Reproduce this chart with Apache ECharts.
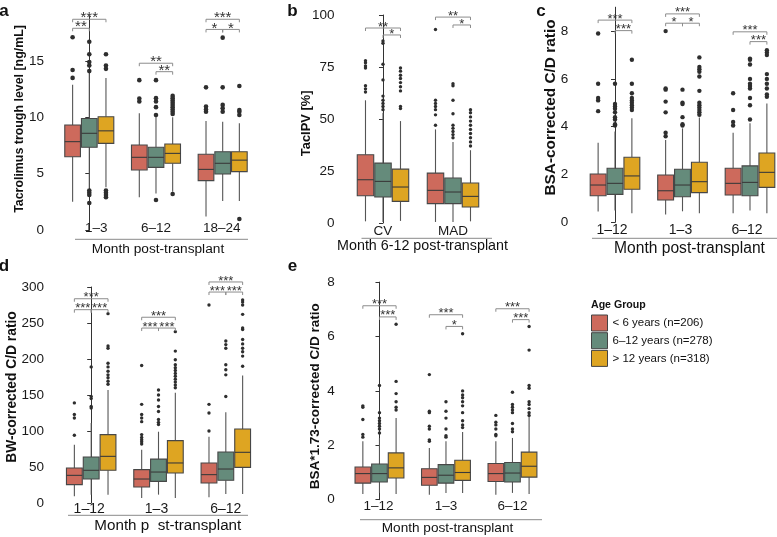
<!DOCTYPE html>
<html><head><meta charset="utf-8">
<script src="https://cdn.jsdelivr.net/npm/echarts@6/dist/echarts.min.js"></script>
<style>html,body{margin:0;padding:0;background:#fff}#c{width:777px;height:537px}</style>
</head><body><div id="c"></div>
<script>
// ---------- data ----------
const ageGroups = ['< 6 years (n=206)', '6–12 years (n=278)', '> 12 years (n=318)'];
const ageColors = ['#CD6A5C', '#658B7B', '#DEA522'];

// Panel a: per age group -> per category [min, q1, median, q3, max]
const catsA = ['1–3', '6–12', '18–24'];
const boxA = [
  [[2.5, 6.5, 7.84, 9.32, 12.9], [2.9, 5.33, 6.45, 7.54, 10.36], [1.2, 4.38, 5.38, 6.72, 9.67]],
  [[3.7, 7.34, 8.58, 9.9, 13.9], [3.25, 5.56, 6.45, 7.34, 10.06], [2.57, 4.97, 5.92, 6.95, 9.6]],
  [[3.8, 7.69, 8.8, 10.05, 13.5], [3.4, 5.92, 6.8, 7.63, 10.0], [2.57, 5.18, 6.2, 6.95, 9.47]]
];
const outA = [
  [[13.5, 14.2, 17.1], [11.4, 11.66, 13.3], [10.5, 10.7, 10.95, 12.66]],
  [[2.4, 3.1, 3.3, 3.5, 14.1, 14.6, 14.9, 15.6, 16.7], [2.66, 10.2, 10.9, 11.4, 11.7, 13.3], [10.5, 10.8, 11.1, 12.66, 17.07]],
  [[2.9, 3.1, 3.3, 3.5, 14.3, 14.6, 15.6], [3.2, 10.3, 10.5, 10.7, 10.9, 11.1, 11.3, 11.5, 11.7, 11.9], [0.98, 10.2, 10.5, 10.65, 12.78]]
];
// significance: [category, fromAge, toAge, y, stars]
const sigA = [[0,0,2,18.7,3],[0,0,1,17.9,2],[1,0,2,14.8,2],[1,1,2,14.05,2],[2,0,2,18.7,3],[2,0,1,17.8,1],[2,1,2,17.8,1]];
const ticksA = [0, 5, 10, 15];

// Panel b
const catsB = ['CV', 'MAD'];
const boxB = [
  [[0.8, 13.1, 20.8, 32.8, 59], [0.5, 9.3, 15.7, 24, 45]],
  [[0.5, 12.5, 20, 28.8, 53], [0.5, 9.3, 14.9, 21.6, 39]],
  [[1.0, 10.4, 17.3, 25.9, 49], [0.8, 7.7, 12.8, 19.2, 35]]
];
const outB = [
  [[63, 64.5, 66, 74.5, 75.5, 77, 78], [47, 52, 54.5, 56, 57.5, 59, 93]],
  [[54.5, 56, 57.5, 59, 61, 68.8, 76.3, 86.4, 87.5], [41, 42.5, 44, 45.5, 47, 52.5, 59, 66, 67]],
  [[55, 56, 63.5, 65.5, 67.5, 69.5, 71, 73, 74.5], [37, 39, 41, 43, 45, 47, 49, 51, 53, 54.5]]
];
const sigB = [[0,0,2,93.75,2],[0,1,2,90.4,1],[1,0,2,99,2],[1,1,2,95.2,1]];
const ticksB = [0, 25, 50, 75, 100];

// Panel c
const catsC = ['1–12', '1–3', '6–12'];
const boxC = [
  [[0.45, 1.11, 1.56, 2.02, 3.33], [0.33, 0.93, 1.32, 1.98, 3.44], [0.38, 1.14, 1.63, 2.26, 3.75]],
  [[0.49, 1.17, 1.63, 2.26, 3.8], [0.46, 1.07, 1.56, 2.22, 3.93], [0.49, 1.11, 1.67, 2.36, 4.14]],
  [[0.38, 1.38, 1.94, 2.72, 4.35], [0.38, 1.24, 1.7, 2.51, 4.39], [0.38, 1.46, 2.09, 2.9, 4.97]]
];
const outC = [
  [[4.65, 5.1, 5.2, 5.8, 7.9], [3.6, 3.75, 4.6, 5.05, 5.55, 5.6, 8.0], [4.05, 4.2, 4.7, 5.4]],
  [[4.05, 4.1, 4.3, 4.4, 4.6, 4.75, 4.85, 4.95, 5.8], [4.05, 4.1, 4.4, 4.95, 5.0, 5.55], [4.3, 4.9, 5.2, 5.6, 5.7, 5.8, 6.0, 6.6, 6.8, 6.85]],
  [[4.7, 4.8, 4.9, 5.0, 5.1, 5.2, 5.4, 5.8, 6.8], [4.5, 4.6, 4.7, 4.8, 4.9, 5.0, 5.5, 6.1, 6.3, 6.4, 6.5, 6.9], [5.25, 5.35, 5.6, 5.8, 6.0, 6.2, 7.0, 7.1, 7.2]]
];
const sigC = [[0,0,2,8.46,3],[0,1,2,8.02,3],[1,0,2,8.72,3],[1,0,1,8.33,1],[1,1,2,8.33,1],[2,0,2,7.97,3],[2,1,2,7.56,3]];
const ticksC = [0, 2, 4, 6, 8];

// Panel d
const catsD = ['1–12', '1–3', '6–12'];
const boxD = [
  [[9.3, 25.5, 38.4, 48.6, 81], [7, 22.2, 33.3, 46.3, 74], [7.9, 27.8, 39.4, 55.6, 92]],
  [[11.6, 33.3, 45.4, 63.9, 111], [11.6, 30, 43, 61, 99], [12.5, 31.5, 47.2, 70.8, 126]],
  [[11.6, 45.4, 64.8, 95, 157], [7, 41.7, 55.6, 86.6, 153], [12.5, 49.5, 70.4, 102.8, 177]]
];
const outD = [
  [[94, 118, 123, 139], [82, 85, 88, 91, 95, 113, 118, 123, 137, 191], [100, 125, 137, 275]],
  [[132, 134, 145, 148, 189], [109, 112, 116, 127, 134, 143, 150, 157], [148, 178, 185, 192, 215, 220, 225]],
  [[165, 169, 174, 178, 183, 189, 194, 215, 218, 263], [160, 164, 168, 172, 176, 180, 184, 188, 192, 199, 211, 238], [190, 204, 210, 215, 221, 227, 241, 243, 262, 275, 279, 282]]
];
const sigD = [[0,0,2,283.7,3],[0,0,1,268.5,3],[0,1,2,268.5,3],[1,0,2,258,3],[1,0,1,243,3],[1,1,2,243,3],[2,0,2,307,3],[2,0,1,293,3],[2,1,2,293,3]];
const ticksD = [0, 50, 100, 150, 200, 250, 300];

// Panel e
const catsE = ['1–12', '1–3', '6–12'];
const boxE = [
  [[0.21, 0.61, 0.96, 1.2, 2.15], [0.18, 0.53, 0.82, 1.14, 1.9], [0.18, 0.67, 0.96, 1.33, 2.15]],
  [[0.25, 0.65, 0.96, 1.31, 2.27], [0.25, 0.61, 0.9, 1.29, 2.15], [0.25, 0.65, 0.98, 1.37, 2.27]],
  [[0.21, 0.8, 1.17, 1.72, 3.0], [0.25, 0.71, 1.0, 1.45, 2.49], [0.21, 0.83, 1.23, 1.75, 3.07]]
];
const outE = [
  [[2.3, 2.4, 2.95, 3.4, 3.45], [2.15, 2.2, 2.6, 2.7, 3.2, 3.25, 4.6], [2.35, 2.4, 2.6, 2.75, 2.85, 3.1]],
  [[2.45, 2.6, 2.7, 2.8, 2.9, 3.0, 3.2, 4.2], [2.3, 2.35, 2.6, 3.0, 3.25, 3.6], [2.5, 2.6, 2.8, 3.2, 3.3, 3.4, 3.5, 3.95]],
  [[3.3, 3.4, 3.6, 3.9, 4.35, 6.45], [2.65, 2.75, 2.9, 3.2, 3.45, 3.6, 3.75, 3.85, 4.0, 6.1], [3.1, 3.2, 3.35, 3.5, 3.6, 4.1, 4.2, 5.5, 6.37]]
];
const sigE = [[0,0,2,7.13,3],[0,1,2,6.72,3],[1,0,2,6.8,3],[1,1,2,6.37,1],[2,0,2,7.02,3],[2,1,2,6.62,3]];
const ticksE = [0, 2, 4, 6, 8];

// ---------- layout ----------
const FONT = '"Liberation Sans", Arial, Helvetica, sans-serif';
const STEP = 0.25, BOXW = 0.235;
const panels = [
  { cats: catsA, box: boxA, out: outA, sig: sigA, ticks: ticksA, y: [0, 19],
    grid: { left: 50, top: 15.9, width: 202.7, height: 214.1 }, x: [-0.589, 2.45],
    pt: 4.6, star: 15, labDy: -2, labDx: [7, 0, -1], labFs: 13.5 },
  { cats: catsB, box: boxB, out: outB, sig: sigB, ticks: ticksB, y: [0, 100],
    grid: { left: 340.5, top: 15, width: 155.9, height: 208 }, x: [-0.607, 1.62],
    pt: 3.4, star: 13, labDy: 8.7, labDx: [0, 0, 0], labFs: 13.5 },
  { cats: catsC, box: boxC, out: outC, sig: sigC, ticks: ticksC, y: [0, 9],
    grid: { left: 574.3, top: 7.2, width: 202.7, height: 215.1 }, x: [-0.603, 2.4],
    pt: 4.4, star: 13, labDy: 7.7, labDx: [-3, -2, -3], labFs: 14 },
  { cats: catsD, box: boxD, out: outD, sig: sigD, ticks: ticksD, y: [0, 300],
    grid: { left: 50, top: 287, width: 206.1, height: 216 }, x: [-0.612, 2.45],
    pt: 3.4, star: 13, labDy: 5.7, labDx: [-2, -2, 0], labFs: 14 },
  { cats: catsE, box: boxE, out: outE, sig: sigE, ticks: ticksE, y: [0, 8],
    grid: { left: 340.7, top: 282.1, width: 201.7, height: 217.6 }, x: [-0.583, 2.45],
    pt: 3.4, star: 13, labDy: 6.6, labDx: [-1, 0, 0], labFs: 13.5 }
];

const grids = [], xAxes = [], yAxes = [], series = [];

function renderBox(params, api) {
  const g = api.value(0), a = api.value(1);
  const pos = g + (a - 1) * STEP;
  const pMin = api.coord([pos, api.value(2)]);
  const pQ1 = api.coord([pos, api.value(3)]);
  const pMed = api.coord([pos, api.value(4)]);
  const pQ3 = api.coord([pos, api.value(5)]);
  const pMax = api.coord([pos, api.value(6)]);
  const xl = api.coord([pos - BOXW / 2, 0])[0];
  const xr = api.coord([pos + BOXW / 2, 0])[0];
  const cx = pMin[0];
  const col = api.visual('color');
  return { type: 'group', children: [
    { type: 'line', shape: { x1: cx, y1: pQ1[1], x2: cx, y2: pMin[1] }, style: { stroke: '#555', lineWidth: 1.1 } },
    { type: 'line', shape: { x1: cx, y1: pQ3[1], x2: cx, y2: pMax[1] }, style: { stroke: '#555', lineWidth: 1.1 } },
    { type: 'rect', shape: { x: xl, y: pQ3[1], width: xr - xl, height: pQ1[1] - pQ3[1] },
      style: { fill: col, stroke: '#474747', lineWidth: 1.1 } },
    { type: 'line', shape: { x1: xl, y1: pMed[1], x2: xr, y2: pMed[1] }, style: { stroke: '#3a3a3a', lineWidth: 1.1 } }
  ] };
}

function makeSigRenderer(fs) {
  return function (params, api) {
    const g = api.value(0), a1 = api.value(1), a2 = api.value(2), yv = api.value(3), n = api.value(4);
    const p1 = api.coord([g + (a1 - 1) * STEP, yv]);
    const p2 = api.coord([g + (a2 - 1) * STEP, yv]);
    const tip = 3;
    return { type: 'group', children: [
      { type: 'polyline', shape: { points: [[p1[0], p1[1] + tip], [p1[0], p1[1]], [p2[0], p2[1]], [p2[0], p2[1] + tip]] },
        style: { stroke: '#8c8c8c', lineWidth: 1, fill: null } },
      { type: 'text', x: (p1[0] + p2[0]) / 2, y: p1[1] - 1,
        style: { text: '*'.repeat(n), font: fs + 'px ' + FONT, align: 'center', verticalAlign: 'middle', fill: '#333' } }
    ] };
  };
}

function makeLabelRenderer(cats, dy, dx, fs) {
  return function (params, api) {
    const g = api.value(0);
    const p = api.coord([g, api.value(1)]);
    return { type: 'text', x: p[0] + dx[params.dataIndex], y: p[1] + dy,
      style: { text: cats[params.dataIndex], font: fs + 'px ' + FONT, align: 'center', verticalAlign: 'middle', fill: '#1a1a1a' } };
  };
}

panels.forEach((P, i) => {
  grids.push(Object.assign({ containLabel: false }, P.grid));
  xAxes.push({ type: 'value', gridIndex: i, min: P.x[0], max: P.x[1], show: false });
  yAxes.push({ type: 'value', gridIndex: i, min: P.y[0], max: P.y[1],
    interval: P.ticks[1] - P.ticks[0],
    axisLine: { show: true, lineStyle: { color: '#333', width: 1 } },
    axisTick: { show: true, length: 4, lineStyle: { color: '#333' }, customValues: P.ticks },
    axisLabel: { customValues: P.ticks, color: '#1a1a1a', fontSize: 13.5, fontFamily: FONT, margin: 6 },
    splitLine: { show: false } });
  for (let a = 0; a < 3; a++) {
    const data = P.cats.map((c, g) => [g, a].concat(P.box[a][g]));
    series.push({ type: 'custom', name: ageGroups[a], xAxisIndex: i, yAxisIndex: i,
      itemStyle: { color: ageColors[a] }, renderItem: renderBox, data: data, z: 2, silent: true });
  }
  const pts = [];
  for (let a = 0; a < 3; a++) P.cats.forEach((c, g) => P.out[a][g].forEach(v => pts.push([g + (a - 1) * STEP, v])));
  series.push({ type: 'scatter', name: 'outliers', xAxisIndex: i, yAxisIndex: i, data: pts,
    symbol: 'circle', symbolSize: P.pt, itemStyle: { color: '#2e2e2e', opacity: 1 }, z: 3, silent: true });
  series.push({ type: 'custom', name: 'sig', xAxisIndex: i, yAxisIndex: i, data: P.sig,
    renderItem: makeSigRenderer(P.star), clip: false, z: 4, silent: true });
  series.push({ type: 'custom', name: 'labels', xAxisIndex: i, yAxisIndex: i,
    data: P.cats.map((c, g) => [g, P.y[0]]), renderItem: makeLabelRenderer(P.cats, P.labDy, P.labDx, P.labFs), clip: false, silent: true });
});

function txt(x, y, text, font, opts) {
  return Object.assign({ type: 'text', x: x, y: y, silent: true,
    style: { text: text, font: font, align: 'center', verticalAlign: 'middle', fill: '#111' } }, opts || {});
}
function hline(x1, x2, y) {
  return { type: 'line', silent: true, shape: { x1: x1, y1: y, x2: x2, y2: y }, style: { stroke: '#8a8a8a', lineWidth: 1 } };
}
const R = Math.PI / 2;
const graphic = [
  txt(4, 11.5, 'a', 'bold 17px ' + FONT, {}),
  txt(292.5, 11.5, 'b', 'bold 17px ' + FONT, {}),
  txt(541, 11.5, 'c', 'bold 17px ' + FONT, {}),
  txt(4, 266, 'd', 'bold 17px ' + FONT, {}),
  txt(292.5, 266, 'e', 'bold 17px ' + FONT, {}),
  txt(19.5, 119, 'Tacrolimus trough level [ng/mL]', 'bold 12.4px ' + FONT, { rotation: R }),
  txt(306, 123.3, 'TacIPV [%]', 'bold 12.9px ' + FONT, { rotation: R }),
  txt(551, 107.5, 'BSA-corrected C/D ratio', 'bold 15.4px ' + FONT, { rotation: R }),
  txt(12.3, 387, 'BW-corrected C/D ratio', 'bold 13.8px ' + FONT, { rotation: R }),
  txt(315.3, 396.3, 'BSA*1.73-corrected C/D ratio', 'bold 13.5px ' + FONT, { rotation: R }),
  hline(75, 248, 239.3), txt(158, 249, 'Month post-transplant', '13.7px ' + FONT),
  hline(361.5, 492, 238.3), txt(422.5, 246.5, 'Month 6-12 post-transplant', '14.3px ' + FONT),
  hline(592, 777, 238.3), txt(689.5, 248.3, 'Month post-transplant', '15.6px ' + FONT),
  hline(68, 248, 515.3), txt(167.8, 526.3, 'Month p  st-transplant', '15.2px ' + FONT),
  hline(360, 542, 519.7), txt(447.5, 528.3, 'Month post-transplant', '13.6px ' + FONT),
  { type: 'text', x: 591, y: 304.7, silent: true,
    style: { text: 'Age Group', font: 'bold 10.6px ' + FONT, align: 'left', verticalAlign: 'middle', fill: '#111' } }
];

const chart = echarts.init(document.getElementById('c'), null, { renderer: 'canvas' });
chart.setOption({
  animation: false,
  backgroundColor: '#fff',
  grid: grids, xAxis: xAxes, yAxis: yAxes, series: series,
  legend: { data: ageGroups, orient: 'vertical', left: 591, top: 314.5, itemWidth: 16, itemHeight: 16, itemGap: 0.7,
    icon: 'rect', itemStyle: { borderColor: '#444', borderWidth: 1 }, selectedMode: false, padding: 0,
    textStyle: { fontSize: 11.5, color: '#111', fontFamily: FONT } },
  graphic: graphic
});
</script></body></html>
